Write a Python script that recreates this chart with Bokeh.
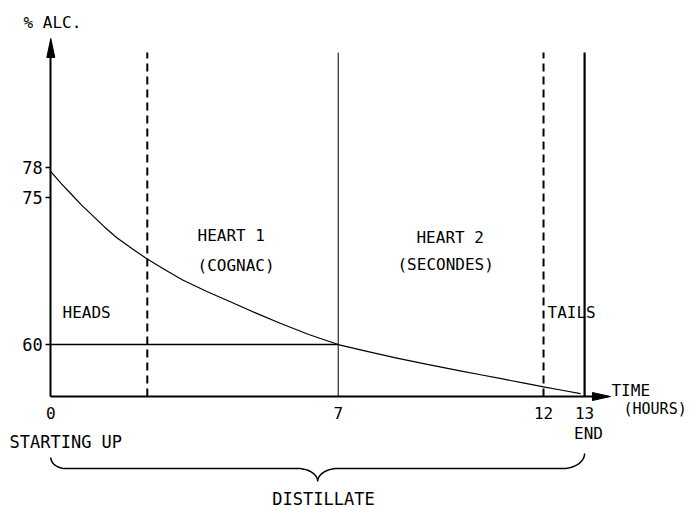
import numpy as np
from bokeh.plotting import figure
from bokeh.models import Range1d, FixedTicker, ColumnDataSource
from bokeh.core.properties import value
from bokeh.embed import file_html
from bokeh.resources import INLINE

# ---------------- data ----------------
time_h = [0, 0.25, 0.5, 0.75, 1.0, 1.3, 1.6, 2.0, 2.35, 2.75, 3.2, 3.8, 4.4, 5.0,
          5.6, 6.3, 7.0, 7.7, 8.4, 9.2, 10.0, 10.5, 11.0, 11.5, 12.0, 12.45, 12.9]
alcohol_pct = [77.6, 76.4, 75.3, 74.2, 73.2, 72.0, 70.9, 69.7, 68.7, 67.7, 66.6, 65.4, 64.3, 63.2,
               62.15, 61.0, 60.0, 59.3, 58.65, 57.95, 57.3, 56.9, 56.5, 56.1, 55.7, 55.35, 55.0]

y_ticks = [60, 75, 78]
x_ticks = [0, 7, 12, 13]

cut_times = [2.35, 7, 12, 13]
cut_dashed = [True, False, True, False]
cut_widths = [2, 1, 2, 2.2]

heart_cut_pct = 60
heart_cut_start = 0
heart_cut_end = 7

distillate_start = 0
distillate_end = 13

region_text = ["HEADS", "HEART 1", "(COGNAC)", "HEART 2", "(SECONDES)", "TAILS"]
region_x = [0.285, 3.573, 3.573, 8.906, 8.443, 12.097]
region_y = [63.26, 71.10, 68.05, 70.90, 68.15, 63.26]

# ---------------- layout constants ----------------
X_MIN, X_MAX = -1.225, 15.628
Y_MIN, Y_MAX = 43.31, 95.025
AXIS_Y = 54.71          # where the time axis sits
Y_ARROW_TIP = 91.16
LINE_TOP = 89.73
X_ARROW_TIP = 13.63
PX_X = 41.06            # pixels per hour
PX_Y = 9.823            # pixels per % alc

FONT = "DejaVu Sans Mono"

p = figure(width=692, height=508,
           x_range=Range1d(X_MIN, X_MAX), y_range=Range1d(Y_MIN, Y_MAX),
           output_backend="svg", toolbar_location=None, min_border=0,
           outline_line_color=None, background_fill_color="white")
p.grid.visible = False

# ---------------- axes ----------------
for ax in p.xaxis:
    ax.fixed_location = AXIS_Y
    ax.bounds = (0, X_ARROW_TIP - 18 / PX_X + 0.05)
    ax.ticker = FixedTicker(ticks=x_ticks)
    ax.major_tick_out = 0
    ax.major_tick_in = 0
    ax.minor_tick_out = 0
    ax.minor_tick_in = 0
    ax.axis_line_width = 2
    ax.axis_line_color = "black"
    ax.major_label_text_font = FONT
    ax.major_label_text_font_size = "16px"
    ax.major_label_text_color = "black"
    ax.major_label_standoff = 10

for ax in p.yaxis:
    ax.fixed_location = 0
    ax.bounds = (AXIS_Y, Y_ARROW_TIP - 18 / PX_Y + 0.2)
    ax.ticker = FixedTicker(ticks=y_ticks)
    ax.major_tick_out = 5
    ax.major_tick_in = 0
    ax.minor_tick_out = 0
    ax.minor_tick_in = 0
    ax.major_tick_line_width = 1.5
    ax.major_tick_line_color = "black"
    ax.axis_line_width = 2
    ax.axis_line_color = "black"
    ax.major_label_text_font = FONT
    ax.major_label_text_font_size = "17px"
    ax.major_label_text_color = "black"
    ax.major_label_standoff = 3

# arrow heads
hw_x = 4 / PX_X
hw_y = 4 / PX_Y
p.patch([-hw_x, 0, hw_x], [Y_ARROW_TIP - 19 / PX_Y, Y_ARROW_TIP, Y_ARROW_TIP - 19 / PX_Y],
        color="black", line_width=1)
p.patch([X_ARROW_TIP - 18 / PX_X, X_ARROW_TIP, X_ARROW_TIP - 18 / PX_X],
        [AXIS_Y - hw_y, AXIS_Y, AXIS_Y + hw_y], color="black", line_width=1)

# ---------------- cut lines ----------------
for t, dashed, w in zip(cut_times, cut_dashed, cut_widths):
    p.line([t, t], [AXIS_Y, LINE_TOP], line_color="black", line_width=w,
           line_dash="8 5" if dashed else "solid")

# horizontal 60% line
p.line([heart_cut_start, heart_cut_end], [heart_cut_pct, heart_cut_pct],
       line_color="black", line_width=1.5)

# alcohol curve
p.line(time_h, alcohol_pct, line_color="black", line_width=1.2, line_join="round")

# ---------------- region labels ----------------
src = ColumnDataSource(dict(x=region_x, y=region_y, t=region_text))
p.text(x="x", y="y", text="t", source=src, text_font=value(FONT),
       text_font_size="16px", text_align="left", text_baseline="middle",
       text_color="black")

def label(x, y, txt, align="left", size="16px"):
    p.text(x=[x], y=[y], text=[txt], text_font=value(FONT), text_font_size=size,
           text_align=align, text_baseline="middle", text_color="black")

label(-0.665, 92.79, "% ALC.", size="16px")
label(13.655, 55.32, "TIME", size="16px")
label(13.947, 53.49, "(HOURS)", size="15px")
label(-1.006, 50.13, "STARTING UP", size="17px")
label(distillate_end + 0.096, 50.96, "END", align="center", size="16px")
label((distillate_start + distillate_end) / 2 + 0.14, 44.23, "DISTILLATE", align="center", size="17px")

# ---------------- brace ----------------
def arc(cx, cy, rx, ry, a0, a1, n=16):
    a = np.radians(np.linspace(a0, a1, n))
    return list(cx + rx * np.cos(a)), list(cy + ry * np.sin(a))

brace_y = AXIS_Y - 72 / PX_Y
left_y = brace_y + 11 / PX_Y
right_y = brace_y + 15 / PX_Y
tip_y = brace_y - 13 / PX_Y
mid = (distillate_start + distillate_end) / 2
rl, rm, rr = 15 / PX_X, 20 / PX_X, 22 / PX_X

bx, by = [], []
for seg in (arc(distillate_start + rl, left_y, rl, left_y - brace_y, 180, 270),
            arc(mid - rm, tip_y, rm, brace_y - tip_y, 90, 0),
            arc(mid + rm, tip_y, rm, brace_y - tip_y, 180, 90),
            arc(distillate_end - rr, right_y, rr, right_y - brace_y, 270, 360)):
    bx += seg[0]
    by += seg[1]
p.line(bx, by, line_color="black", line_width=1.5)

open("out.html", "w").write(file_html(p, INLINE))
